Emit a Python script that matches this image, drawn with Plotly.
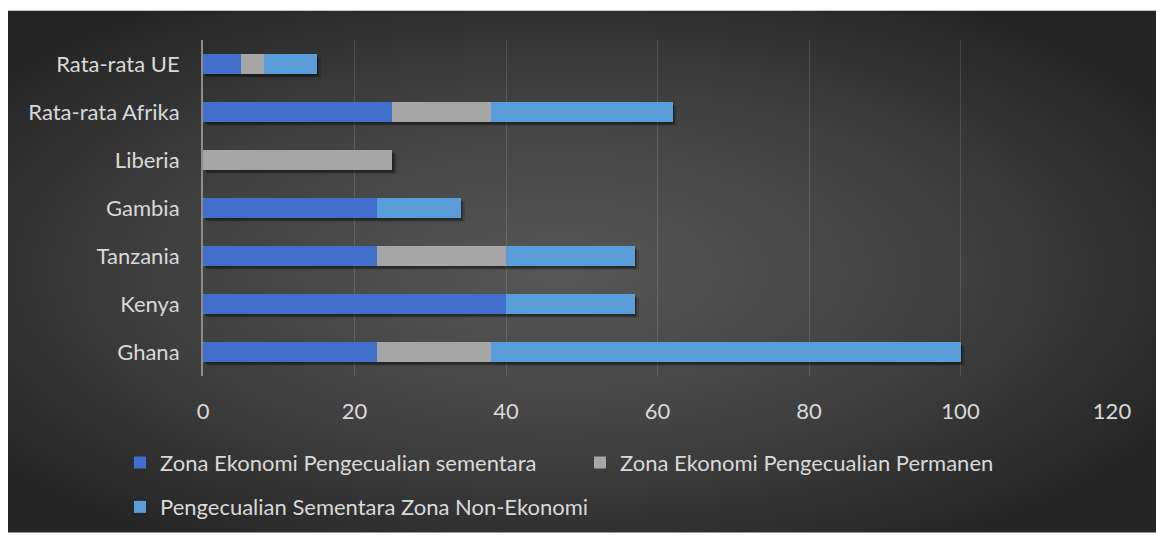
import base64
import plotly.graph_objects as go

# ---- data (bottom to top) ----
categories = ["Ghana", "Kenya", "Tanzania", "Gambia", "Liberia", "Rata-rata Afrika", "Rata-rata UE"]
series_names = [
    "Zona Ekonomi Pengecualian sementara",
    "Zona Ekonomi Pengecualian Permanen",
    "Pengecualian Sementara Zona Non-Ekonomi",
]
temp_eez = [23, 40, 23, 23, 0, 25, 5]
perm_eez = [15, 0, 17, 0, 25, 13, 3]
temp_non_eez = [62, 17, 17, 11, 0, 24, 7]
x_ticks = [0, 20, 40, 60, 80, 100, 120]

colors = ["#4070CB", "#A6A6A6", "#5B9DDB"]

# ---- layout geometry ----
W, H = 1156, 540
ML, MR, MT, MB = 203, 44, 40, 159
PW, PH = W - ML - MR, H - MT - MB
FONT = "Lato"
FS = 22
TXT = "#D9D9D9"
BAR_W = 0.42

# radial gradient background (Excel-like)
svg = (
    '<svg xmlns="http://www.w3.org/2000/svg" width="1148" height="530" viewBox="0 0 1148 530" '
    'preserveAspectRatio="none"><defs><radialGradient id="g" cx="0.48" cy="0.5" r="0.62" '
    'gradientUnits="objectBoundingBox"><stop offset="0" stop-color="#575757"/>'
    '<stop offset="0.55" stop-color="#404040"/><stop offset="1" stop-color="#242424"/>'
    '</radialGradient></defs><rect width="1148" height="530" fill="url(#g)"/></svg>'
)
bg_src = "data:image/svg+xml;base64," + base64.b64encode(svg.encode()).decode()

fig = go.Figure()

# soft shadow under each stacked bar (drawn on base axes, beneath real bars)
totals = [a + b + c for a, b, c in zip(temp_eez, perm_eez, temp_non_eez)]
for dx, dy, a in [(0.55, 0.09, 0.12), (0.35, 0.06, 0.2), (0.2, 0.035, 0.25)]:
    fig.add_trace(go.Bar(
        y=categories, x=totals, orientation="h", base=dx,
        width=BAR_W, offset=-BAR_W / 2 - dy,
        marker=dict(color=f"rgba(0,0,0,{a})", line=dict(width=0)),
        showlegend=False, hoverinfo="skip", xaxis="x", yaxis="y",
    ))

for i, (name, vals) in enumerate(zip(series_names, [temp_eez, perm_eez, temp_non_eez])):
    fig.add_trace(go.Bar(
        y=categories, x=vals, name=name, orientation="h",
        width=BAR_W,
        marker=dict(color=colors[i], line=dict(width=0)),
        xaxis="x2", yaxis="y2",
        legend="legend" if i < 2 else "legend2",
    ))

axis_common_x = dict(range=[0, 120], fixedrange=True)
fig.update_layout(
    width=W, height=H,
    margin=dict(l=ML, r=MR, t=MT, b=MB, pad=0),
    paper_bgcolor="white",
    plot_bgcolor="rgba(0,0,0,0)",
    barmode="overlay",
    font=dict(family=FONT, size=FS, color=TXT),
    xaxis=dict(
        **axis_common_x,
        tickvals=x_ticks, ticktext=[str(v) for v in x_ticks],
        showgrid=True, gridcolor="rgba(255,255,255,0.13)", gridwidth=1,
        zeroline=False, showline=False,
        ticks="outside", ticklen=16, tickcolor="rgba(0,0,0,0)",
        tickfont=dict(family=FONT, size=FS, color=TXT),
    ),
    yaxis=dict(
        categoryorder="array", categoryarray=categories,
        showgrid=False, zeroline=False,
        showline=True, linecolor="#8C8C8C", linewidth=2,
        ticks="outside", ticklen=17, tickcolor="rgba(0,0,0,0)",
        tickfont=dict(family=FONT, size=FS, color=TXT),
        fixedrange=True,
    ),
    xaxis2=dict(**axis_common_x, overlaying="x", visible=False),
    yaxis2=dict(categoryorder="array", categoryarray=categories,
                overlaying="y", visible=False, fixedrange=True),
    legend=dict(
        orientation="h", x=(120 - ML) / PW, xanchor="left",
        y=(PH - (469 - MT)) / PH, yanchor="middle",
        entrywidth=415, entrywidthmode="pixels",
        bgcolor="rgba(0,0,0,0)", font=dict(family=FONT, size=FS, color=TXT),
        itemwidth=30, traceorder="normal",
    ),
    legend2=dict(
        orientation="h", x=(120 - ML) / PW, xanchor="left",
        y=(PH - (514 - MT)) / PH, yanchor="middle",
        bgcolor="rgba(0,0,0,0)", font=dict(family=FONT, size=FS, color=TXT),
        itemwidth=30,
    ),
    images=[dict(
        source=bg_src, xref="paper", yref="paper",
        x=(8 - ML) / PW, y=1 + (MT - 10) / PH,
        sizex=(W - 8) / PW, sizey=(H - 10) / PH,
        xanchor="left", yanchor="top", sizing="stretch", layer="below",
    )],
    bargap=0.58,
)
# real bars stacked on the overlay axes
fig.update_layout(barmode="stack")

fig.write_html("out.html")
